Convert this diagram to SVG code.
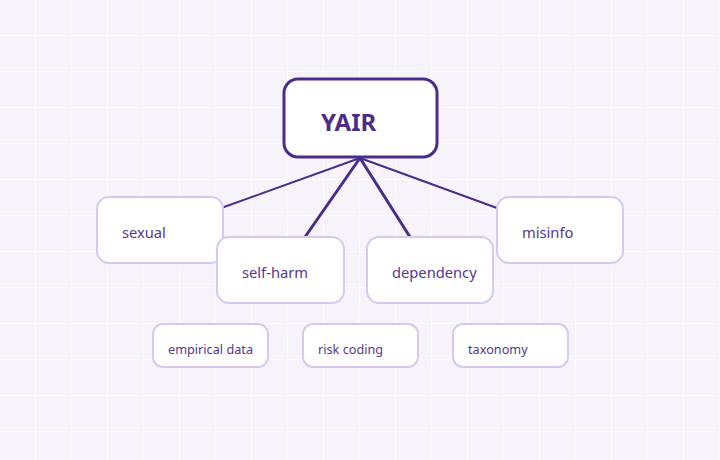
<svg xmlns="http://www.w3.org/2000/svg" width="720" height="460" viewBox="0 0 720 460">
<defs>
<pattern id="grid" x="0" y="0" width="36" height="36" patternUnits="userSpaceOnUse">
<path d="M36 0V36M0 36H36" fill="none" stroke="#ffffff" stroke-width="1.5"/>
</pattern>
<style>
.main rect{fill:#ffffff;stroke:#4a2c8a;stroke-width:3}
.main text{font-family:"Noto Sans","Open Sans",sans-serif;font-weight:bold;font-size:24px;fill:#4a2c8a}
.mid rect{fill:#ffffff;stroke:#d9c8ee;stroke-width:2}
.mid text{font-family:"Noto Sans","Open Sans",sans-serif;font-size:14.7px;fill:#55378f}
.small rect{fill:#ffffff;stroke:#d9c8ee;stroke-width:2}
.small text{font-family:"Noto Sans","Open Sans",sans-serif;font-size:12.7px;fill:#55378f}
.edges line{stroke:#4a2c8a;stroke-linecap:round}
</style>
</defs>
<rect width="720" height="460" fill="#f6f4fa"/>
<rect width="720" height="460" fill="url(#grid)"/>
<g id="connectors" class="edges">
<line x1="360" y1="158" x2="224" y2="207" stroke-width="2"/>
<line x1="360" y1="158" x2="305" y2="237" stroke-width="3"/>
<line x1="360" y1="158" x2="410" y2="237" stroke-width="3"/>
<line x1="360" y1="158" x2="497" y2="208" stroke-width="2"/>
</g>
<g id="yair" class="main"><rect x="284" y="79" width="153" height="78" rx="14"/><text x="321" y="131">YAIR</text></g>
<g id="sexual" class="mid"><rect x="97" y="197" width="126" height="66" rx="12"/><text x="122" y="238">sexual</text></g>
<g id="self-harm" class="mid"><rect x="217" y="237" width="127" height="66" rx="12"/><text x="242" y="278">self-harm</text></g>
<g id="dependency" class="mid"><rect x="367" y="237" width="126" height="66" rx="12"/><text x="392" y="278">dependency</text></g>
<g id="misinfo" class="mid"><rect x="497" y="197" width="126" height="66" rx="12"/><text x="522" y="238">misinfo</text></g>
<g id="empirical-data" class="small"><rect x="153" y="324" width="115" height="43" rx="10"/><text x="168" y="354">empirical data</text></g>
<g id="risk-coding" class="small"><rect x="303" y="324" width="115" height="43" rx="10"/><text x="318" y="354">risk coding</text></g>
<g id="taxonomy" class="small"><rect x="453" y="324" width="115" height="43" rx="10"/><text x="468" y="354">taxonomy</text></g>
</svg>
